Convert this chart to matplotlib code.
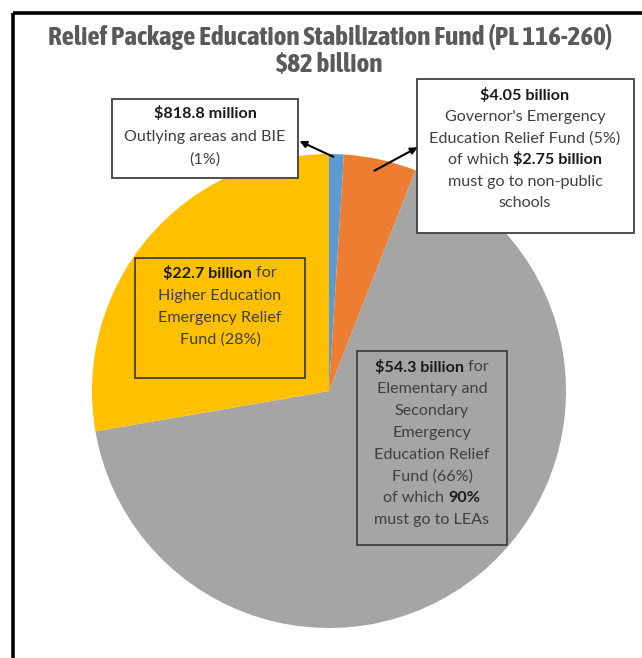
import matplotlib
matplotlib.use("Agg")
import matplotlib.pyplot as plt
from matplotlib.patches import Rectangle
from matplotlib import font_manager

# ---- data ----
categories = ["Outlying areas and BIE", "Governor's Emergency Education Relief Fund",
              "Elementary and Secondary Emergency Education Relief Fund",
              "Higher Education Emergency Relief Fund"]
values_billion = [0.8188, 4.05, 54.3, 22.7]
colors = ["#5B9BD5", "#ED7D31", "#A5A5A5", "#FFC000"]
title_lines = ["Relief Package Education Stabilization Fund (PL 116-260)", "$82 billion"]

W, H = 642, 658
fig = plt.figure(figsize=(W / 100, H / 100), dpi=100)
ax = fig.add_axes([0, 0, 1, 1])

def Y(y):
    return H - y

# pie
ax.pie(values_billion, colors=colors, startangle=90, counterclock=False,
       center=(329, Y(391)), radius=237, wedgeprops=dict(linewidth=0))
ax.set_xlim(0, W)
ax.set_ylim(0, H)
ax.set_aspect("equal")
ax.axis("off")

# frame (open at right/bottom as cropped)
ax.plot([13, W], [Y(13), Y(13)], color="black", lw=2.6, solid_capstyle="butt")
ax.plot([13, 13], [Y(13), 0], color="black", lw=2.6, solid_capstyle="butt")

renderer = fig.canvas.get_renderer()

# title font: prefer a narrow family that has a bold face
bold_narrow = sorted({f.name for f in font_manager.fontManager.ttflist
                      if ("Narrow" in f.name or "Condensed" in f.name)
                      and (f.weight in ("bold", "heavy", "black") or
                           (isinstance(f.weight, int) and f.weight >= 600))})
title_family = [bold_narrow[0] if bold_narrow else "Roboto", "DejaVu Sans"]

t1 = ax.text(330, Y(37), title_lines[0], ha="center", va="center", fontsize=17,
             fontweight="bold", color="#5A5A5A", family=title_family)
w = t1.get_window_extent(renderer).width
tfs = min(19.5, 17 * 606 / w)
t1.set_fontsize(tfs)
ax.text(329, Y(64), title_lines[1], ha="center", va="center", fontsize=tfs,
        fontweight="bold", color="#5A5A5A", family=title_family)

BF = ["Lato", "DejaVu Sans"]
FS = 11.6

def rich_line(cx, y, segs, color="#3F3F3F", bold_color="#1A1A1A"):
    texts = []
    for s, b in segs:
        t = ax.text(0, Y(y), s, ha="left", va="center", fontsize=FS,
                    fontweight="bold" if b else "normal",
                    color=bold_color if b else color, family=BF, zorder=4)
        texts.append(t)
    widths = [t.get_window_extent(renderer).width for t in texts]
    x = cx - sum(widths) / 2
    for t, wd in zip(texts, widths):
        t.set_x(x)
        x += wd

def box(x0, y0, x1, y1, fill):
    ax.add_patch(Rectangle((x0, Y(y1)), x1 - x0, y1 - y0,
                           facecolor=fill if fill else "none",
                           edgecolor="#404040", lw=1.3, zorder=3))

# box 1
box(112, 99, 298, 178, "white")
rich_line(205, 113, [("$818.8 million", True)])
rich_line(205, 137, [("Outlying areas and BIE", False)])
rich_line(205, 160, [("(1%)", False)])

# box 2
box(417, 79, 634, 233, "white")
cx2 = 525
rich_line(cx2, 96, [("$4.05 billion", True)])
rich_line(cx2, 117, [("Governor's Emergency", False)])
rich_line(cx2, 139, [("Education Relief Fund (5%)", False)])
rich_line(cx2, 160, [("of which ", False), ("$2.75 billion", True)])
rich_line(cx2, 182, [("must go to non-public", False)])
rich_line(cx2, 203, [("schools", False)])

# box 3
box(135, 258, 305, 378, None)
cx3 = 220
rich_line(cx3, 273, [("$22.7 billion", True), (" for", False)])
rich_line(cx3, 296, [("Higher Education", False)])
rich_line(cx3, 318, [("Emergency Relief", False)])
rich_line(cx3, 340, [("Fund (28%)", False)])

# box 4
box(357, 351, 507, 545, None)
cx4 = 432
rich_line(cx4, 367, [("$54.3 billion", True), (" for", False)])
rich_line(cx4, 389, [("Elementary and", False)])
rich_line(cx4, 411, [("Secondary", False)])
rich_line(cx4, 433, [("Emergency", False)])
rich_line(cx4, 455, [("Education Relief", False)])
rich_line(cx4, 477, [("Fund (66%)", False)])
rich_line(cx4, 498, [("of which ", False), ("90%", True)])
rich_line(cx4, 520, [("must go to LEAs", False)])

# arrows
ax.annotate("", xy=(297, Y(140)), xytext=(336, Y(158)),
            arrowprops=dict(arrowstyle="-|>", color="black", lw=1.5, mutation_scale=10),
            zorder=5)
ax.annotate("", xy=(420, Y(146)), xytext=(372, Y(172)),
            arrowprops=dict(arrowstyle="-|>", color="black", lw=1.5, mutation_scale=10),
            zorder=5)

fig.savefig("out.png", dpi=100)
